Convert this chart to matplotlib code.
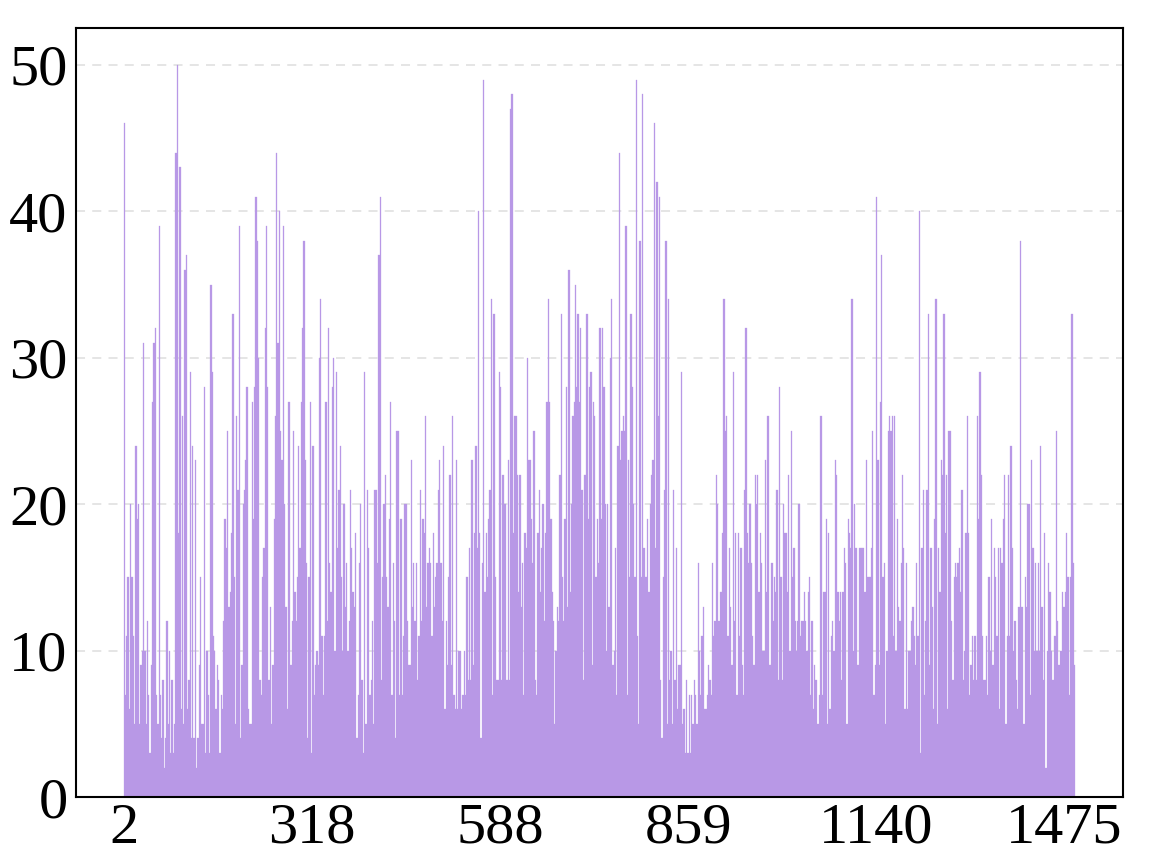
import matplotlib
matplotlib.use("Agg")
import matplotlib.pyplot as plt
import numpy as np

tick_labels = ['2', '318', '588', '859', '1140', '1475']

seg1 = [46,7,11,15,6,20,15,11,5,24,19,20,5,9,10,31,10,5,12,7,3,9,27,31,32,7,5,39,7,4,8,2,4,12,5,10,3,8,3,5,
        44,50,18,43,6,26,5,36,37,6,8,29,4,24,4,23,2,4,9,15,5,5,28,3,10,7,3,35,29,11,10,6,9,8,3,7,6,12,19,17,
        25,13,14,18,33,15,5,26,21,39,4,9,20,21,23,28,6,5,5,27,19,28,41,38,30,8,7,15,17,32,39,28,8,13,5,9,19,26]
seg2 = [44,31,40,25,23,39,20,13,6,27,27,9,12,25,14,12,15,24,17,27,32,38,23,16,4,15,27,3,24,7,9,10,9,30,34,
        11,7,11,27,12,32,16,14,28,30,10,29,17,21,24,15,10,20,13,16,10,12,21,17,14,13,18,4,7,16,20,8,3,29,5,
        21,17,7,8,12,5,21,21,16,37,41,8,15,20,22,15,13,19,27,7,16,12,4,25,25,7,19,7,11,20,20,12,9,9,23,13,
        16,12,16,8,11,21,12,19,18,26,13,16,17,16,11,18,13,15]
seg3 = [16,21,23,16,12,24,6,12,9,15,22,9,26,7,6,23,6,10,10,6,7,10,7,15,8,17,8,23,9,18,24,17,40,18,4,16,
        49,14,18,15,19,21,34,7,33,15,8,8,29,28,8,22,20,20,8,23,8,47,48,18,26,26,22,14,22,13,16,7,18,17,30,
        23,23,19,16,25,8,7,18,21,14,17,20,12,18,27,34,27,19,14,12,5,10,13,12,22,33,15,12,19,28,13,36,14,20,
        26,27,35,28,33,27,32,21,8,22,22,33,19,28,29,9,27,26,15]
seg4 = [19,16,32,19,32,28,20,10,20,13,30,34,9,10,17,7,24,44,23,25,26,25,39,7,23,15,33,28,20,15,49,11,5,
        38,15,48,17,15,15,19,14,20,22,23,46,17,42,26,41,8,4,15,21,38,5,34,8,10,5,21,8,17,6,9,9,29,5,6,3,8,
        3,7,3,7,5,8,7,5,16,10,7,11,13,6,6,7,9,8,7,16,11,12,22,20,12,14,14,18,34,25,26,11,17,13,9,29,12,18,
        7,18,11,17,9,7,21,32,18,16,20,16,11,9,22,20]
seg5 = [22,14,18,16,10,10,23,14,26,9,9,16,12,15,14,21,8,28,15,8,20,18,18,14,22,10,25,15,17,12,10,12,20,
        11,12,12,14,12,10,14,15,7,12,6,9,8,5,5,7,26,7,14,14,19,5,18,6,11,12,10,23,22,14,12,14,8,14,17,16,5,
        19,18,17,34,10,20,17,9,9,17,17,17,17,14,23,15,15,15,17,25,7,9,41,23,9,27,37,15,16,5,10,25,26,25,26,
        11,26,10,19,13,12,16,22,17,6,16,6,10,10,12,13,11,9,16]
seg6 = [11,40,3,17,21,7,12,21,33,9,17,13,6,19,34,5,17,14,23,22,33,18,22,6,25,25,12,8,15,16,15,16,17,14,
        21,8,10,18,26,18,7,9,11,8,11,8,26,19,29,22,11,8,8,11,7,15,10,19,9,17,15,11,17,6,17,16,19,22,5,11,
        22,11,24,17,10,12,8,6,13,38,13,13,5,15,13,20,20,7,23,17,10,16,10,16,10,24,13,8,18,2,10,16,14,10,8,
        8,11,25,12,9,10,10,14,13,14,18,15,7,15,33,16,9]

values = seg1 + seg2 + seg3 + seg4 + seg5 + seg6
n = len(values)
idx = np.arange(n)

plt.rcParams['font.family'] = ['Liberation Serif', 'DejaVu Serif']

fig = plt.figure(figsize=(11.61, 8.57), dpi=100)
ax = fig.add_axes([0.0655, 0.070, 0.9015, 0.897])

ax.bar(idx, values, width=1.0, color='#b898e6', edgecolor='#b898e6', linewidth=0.2, zorder=2)

ax.set_ylim(0, 52.5)
ax.set_yticks([0, 10, 20, 30, 40, 50])
ax.yaxis.grid(True, linestyle=(0, (5, 4)), color='#e3e3e3', linewidth=1.3, zorder=0)
ax.set_axisbelow(True)

step = (n - 1) * (943 / 953) / 5
ax.set_xticks([step * j for j in range(len(tick_labels))])
ax.set_xticklabels(tick_labels)

ax.tick_params(axis='both', length=0, labelsize=42, pad=6)
ax.tick_params(axis='x', pad=4)
for s in ax.spines.values():
    s.set_linewidth(1.5)
    s.set_color('black')

fig.savefig('out.png', dpi=100)
